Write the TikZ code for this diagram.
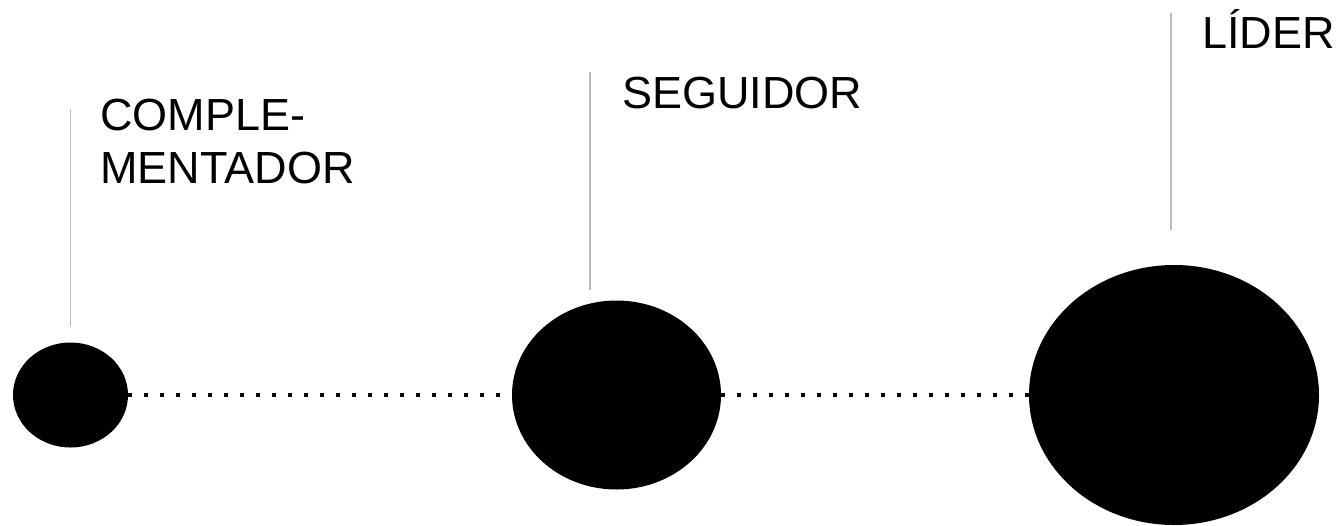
\documentclass[tikz,border=0pt]{standalone}
\usepackage{fontspec}
\setmainfont{Liberation Sans}
\usetikzlibrary{shapes.geometric,positioning}
\definecolor{Guia}{HTML}{BBBBBB}

\begin{document}
\begin{tikzpicture}[x=0.5pt,y=-0.5pt,
    punto/.style={ellipse,fill=black,inner sep=0pt},
    guia/.style={draw=Guia,line width=0.9pt},
    punteado/.style={draw=black,line width=1.6pt,dash pattern=on 1.6pt off 6.4pt},
    rotulo/.style={anchor=base west,inner sep=0pt,align=left,font=\fontsize{22.5}{26.5}\selectfont}]
    \useasboundingbox (0,0) rectangle (1338,525);
    % puntos
    \node[punto,minimum width=57.5pt,minimum height=52.5pt] (complementador) at (70.5,395) {};
    \node[punto,minimum width=104.5pt,minimum height=94.5pt] (seguidor) at (616.5,395) {};
    \node[punto,minimum width=145pt,minimum height=130pt] (lider) at (1174,395) {};
    \draw[punteado] (complementador) -- (seguidor);
    \draw[punteado] (seguidor) -- (lider);
    % guias
    \coordinate (g1a) at (70.5,109);
    \coordinate (g1b) at (70.5,327);
    \coordinate (g2a) at (590,72);
    \coordinate (g2b) at (590,290);
    \coordinate (g3a) at (1171,13);
    \coordinate (g3b) at (1171,230);
    \draw[guia] (g1a) -- (g1b);
    \draw[guia] (g2a) -- (g2b);
    \draw[guia] (g3a) -- (g3b);
    % rotulos
    \node[rotulo] (tcompl) at (100,183) {COMPLE-\\MENTADOR};
    \node[rotulo] (tseg) at (622,108) {SEGUIDOR};
    \node[rotulo] (tlider) at (1202,48) {LÍDER};
  \end{tikzpicture}
\end{document}
